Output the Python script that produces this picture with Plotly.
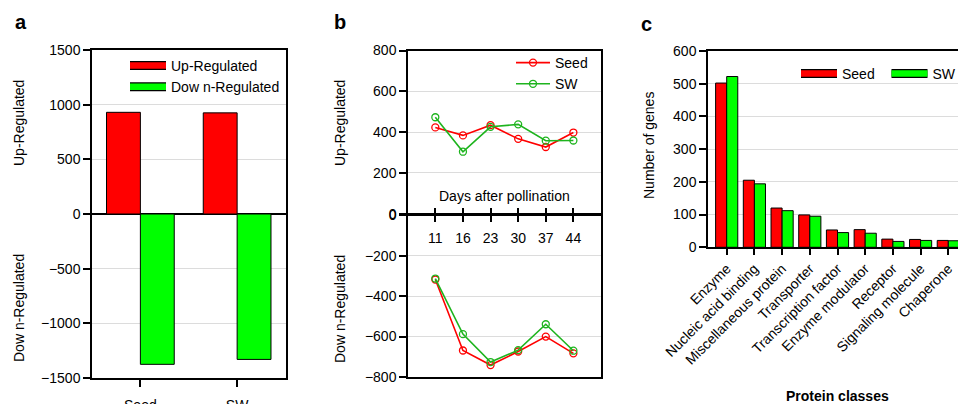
import plotly.graph_objects as go

# ---------------- data ----------------
groups_a = ["Seed", "SW"]
up_a = [930, 925]
down_a = [-1375, -1330]

days = ["11", "16", "23", "30", "37", "44"]
seed_up = [423, 384, 434, 367, 327, 398]
sw_up = [473, 304, 426, 438, 358, 359]
seed_down = [-318, -669, -741, -674, -600, -683]
sw_down = [-313, -588, -726, -667, -539, -670]

classes = ["Enzyme", "Nucleic acid binding", "Miscellaneous protein", "Transporter",
           "Transcription factor", "Enzyme modulator", "Receptor", "Signaling molecule", "Chaperone"]
seed_c = [502, 205, 120, 99, 53, 54, 25, 24, 21]
sw_c = [522, 194, 112, 95, 45, 43, 18, 21, 20]

RED = "#FF0000"
GREEN = "#00FF00"
LGREEN = "#1EB41E"
FONT = "Arial, Liberation Sans, sans-serif"
W, H = 958, 404

def px(x):
    return x / W

def py(y):
    return 1 - y / H

fig = go.Figure()

# ---------------- panel a ----------------
fig.add_trace(go.Bar(x=groups_a, y=up_a, width=0.35, offset=-0.35, marker=dict(color=RED, line=dict(color="black", width=1)),
                     xaxis="x", yaxis="y", showlegend=False))
fig.add_trace(go.Bar(x=groups_a, y=down_a, width=0.35, offset=0, marker=dict(color=GREEN, line=dict(color="black", width=1)),
                     xaxis="x", yaxis="y", showlegend=False))
# legend keys for panel a (border layer drawn first, colour layer on top)
for name in ["Up-Regulated", "Dow n-Regulated"]:
    fig.add_trace(go.Scatter(x=[None], y=[None], mode="lines", name=name, line=dict(color="black", width=9),
                             xaxis="x", yaxis="y", legend="legend", hoverinfo="skip"))
for name, col in [("Up-Regulated", RED), ("Dow n-Regulated", GREEN)]:
    fig.add_trace(go.Scatter(x=[None], y=[None], mode="lines", name=name, line=dict(color=col, width=6.5),
                             xaxis="x", yaxis="y", legend="legend2", hoverinfo="skip"))

# ---------------- panel b ----------------
for vals, col, name, show, xa, ya in [(seed_up, RED, "Seed", True, "x3", "y3"), (sw_up, LGREEN, "SW", True, "x3", "y3"),
                                      (seed_down, RED, "Seed", False, "x4", "y4"), (sw_down, LGREEN, "SW", False, "x4", "y4")]:
    fig.add_trace(go.Scatter(x=days, y=vals, mode="lines+markers", name=name, showlegend=show,
                             line=dict(color=col, width=1.6),
                             marker=dict(symbol="circle-open", size=7, color=col, line=dict(width=1.3)),
                             xaxis=xa, yaxis=ya, legend="legend3"))

# ---------------- panel c ----------------
fig.add_trace(go.Bar(x=classes, y=seed_c, width=0.4, offset=-0.4, marker=dict(color=RED, line=dict(color="black", width=1)),
                     xaxis="x6", yaxis="y6", showlegend=False))
fig.add_trace(go.Bar(x=classes, y=sw_c, width=0.4, offset=0, marker=dict(color=GREEN, line=dict(color="black", width=1)),
                     xaxis="x6", yaxis="y6", showlegend=False))
for name, lg in [("Seed", "legend5"), ("SW", "legend7")]:
    fig.add_trace(go.Scatter(x=[None], y=[None], mode="lines", name=name, line=dict(color="black", width=9),
                             xaxis="x6", yaxis="y6", legend=lg, hoverinfo="skip"))
for name, col, lg in [("Seed", RED, "legend4"), ("SW", GREEN, "legend6")]:
    fig.add_trace(go.Scatter(x=[None], y=[None], mode="lines", name=name, line=dict(color=col, width=6.5),
                             xaxis="x6", yaxis="y6", legend=lg, hoverinfo="skip"))

tickfont = dict(family=FONT, size=14, color="black")
GRID = "#DCDCDC"
LW = 1.5
common_tick = dict(tickwidth=LW, tickcolor="black", tickfont=tickfont, automargin=False,
                   linecolor="black", linewidth=LW)

# axes a
fig.update_layout(
    xaxis=dict(domain=[px(92), px(285.5)], anchor="y", type="category", range=[-0.5, 1.5],
               showline=True, mirror=True, ticks="outside", ticklen=7,
               ticklabelstandoff=6, showgrid=False, **common_tick),
    yaxis=dict(domain=[py(378), py(50)], anchor="x", range=[-1500, 1500], dtick=500,
               showline=True, mirror=True, ticks="outside", ticklen=7,
               showgrid=True, gridcolor=GRID, gridwidth=1,
               zeroline=True, zerolinecolor="black", zerolinewidth=LW, **common_tick),
)

# axes b (upper half: up-regulated, lower half: down-regulated)
yb_top, yb_bot = 50.5, 377
yb_mid = yb_top + (yb_bot - yb_top) / 2
xb_dom = [px(408), px(601)]
xb_range = [-0.99, 6.0]
fig.update_layout(
    xaxis3=dict(domain=xb_dom, anchor="y3", type="category", range=xb_range,
                showline=True, mirror=True, ticks="outside", ticklen=6,
                ticklabelstandoff=5, showgrid=False, zeroline=False, **common_tick),
    yaxis3=dict(domain=[py(yb_mid), py(yb_top)], anchor="x3", range=[0, 800], dtick=200,
                showline=True, mirror=True, ticks="outside", ticklen=7,
                showgrid=True, gridcolor=GRID, gridwidth=1, zeroline=False, **common_tick),
    xaxis4=dict(domain=xb_dom, anchor="y4", type="category", range=xb_range, matches="x3",
                side="top", showline=True, mirror=True, ticks="outside", ticklen=6,
                showticklabels=False, showgrid=False, zeroline=False, **common_tick),
    yaxis4=dict(domain=[py(yb_bot), py(yb_mid + LW)], anchor="x4", range=[-800, -1e-6], dtick=200,
                showline=True, mirror=True, ticks="outside", ticklen=7,
                showgrid=True, gridcolor=GRID, gridwidth=1, zeroline=False, **common_tick),
)

# axes c
fig.update_layout(
    xaxis6=dict(domain=[px(708), 1.0], anchor="y6", type="category", range=[-0.675, 8.35],
                showline=True, mirror=True, ticks="outside", ticklen=6,
                tickangle=-45, showgrid=False, **common_tick),
    yaxis6=dict(domain=[py(247.3), py(51)], anchor="x6", range=[0, 600], dtick=100,
                showline=True, mirror=False, ticks="outside", ticklen=7,
                showgrid=True, gridcolor=GRID, gridwidth=1, zeroline=False, **common_tick),
)

legfont = dict(family=FONT, size=14, color="black")
clear = dict(family=FONT, size=14, color="rgba(0,0,0,0)")
leg_a = dict(x=px(125), y=py(50), xanchor="left", yanchor="top", bgcolor="rgba(0,0,0,0)",
             tracegroupgap=0, itemwidth=36)
leg_c1 = dict(x=px(796), y=py(58), xanchor="left", yanchor="top", bgcolor="rgba(0,0,0,0)", itemwidth=36)
leg_c2 = dict(x=px(886.5), y=py(58), xanchor="left", yanchor="top", bgcolor="rgba(0,0,0,0)", itemwidth=36)
fig.update_layout(
    legend=dict(**leg_a, font=clear),
    legend2=dict(**leg_a, font=legfont),
    legend3=dict(x=px(511), y=py(47), xanchor="left", yanchor="top", bgcolor="rgba(0,0,0,0)",
                 itemwidth=34, font=legfont),
    legend4=dict(**leg_c1, font=legfont),
    legend5=dict(**leg_c1, font=clear),
    legend6=dict(**leg_c2, font=legfont),
    legend7=dict(**leg_c2, font=clear),
)

# titles / panel letters
ann = []
def t(text, x, y, size=14, angle=0, bold=False):
    ann.append(dict(text=f"<b>{text}</b>" if bold else text, x=px(x), y=py(y), xref="paper", yref="paper",
                    showarrow=False, textangle=angle, xanchor="center", yanchor="middle",
                    font=dict(family=FONT, size=size, color="black")))
t("a", 21, 22, 20, bold=True)
t("b", 340, 22, 20, bold=True)
t("c", 646, 24, 20, bold=True)
t("Up-Regulated", 19, 123, angle=-90)
t("Dow n-Regulated", 19, 308, angle=-90)
t("Up-Regulated", 340, 123, angle=-90)
t("Dow n-Regulated", 340, 309, angle=-90)
t("Days after pollination", 504, 196)
t("Number of genes", 649, 146, angle=-90)
t("Protein classes", 837, 396, bold=True)

fig.update_layout(
    annotations=ann, width=W, height=H, margin=dict(l=0, r=0, t=0, b=0, autoexpand=False),
    plot_bgcolor="white", paper_bgcolor="white", barmode="overlay",
    font=dict(family=FONT, size=14, color="black"),
)

fig.write_html("out.html", config=dict(displayModeBar=False))
